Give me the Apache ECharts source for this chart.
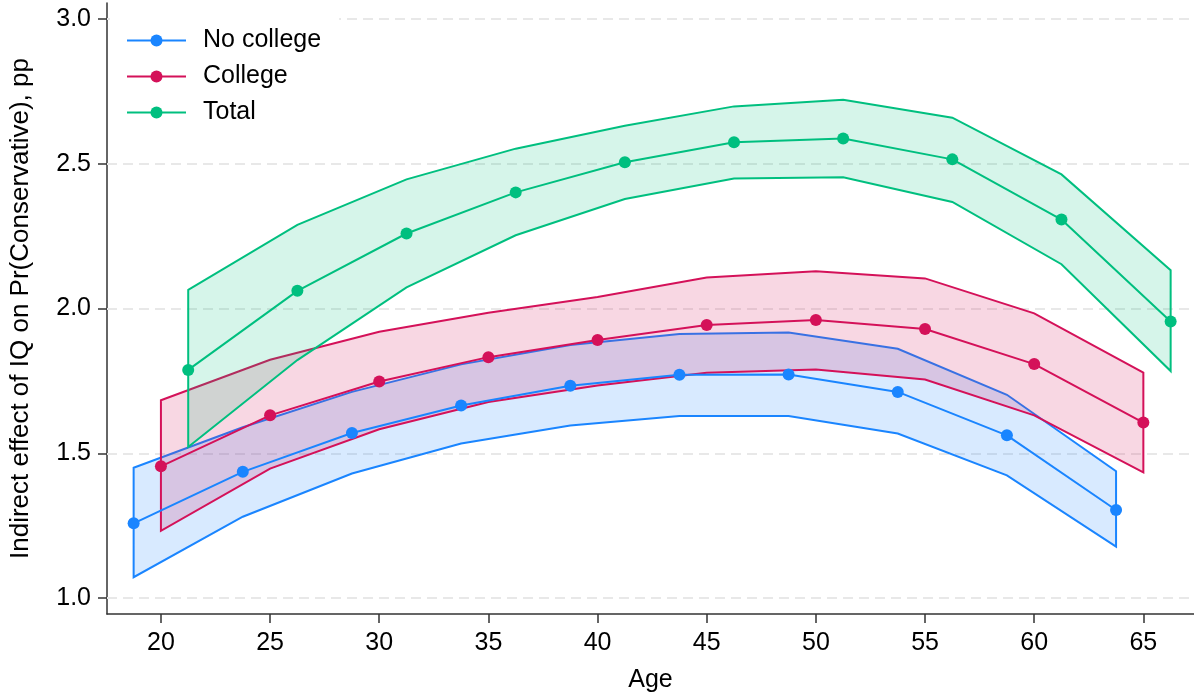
<!DOCTYPE html>
<html>
<head>
<meta charset="utf-8">
<script src="https://cdn.jsdelivr.net/npm/echarts@6/dist/echarts.min.js"></script>
<style>
html,body{margin:0;padding:0;background:#fff;}
#chart{width:1194px;height:698px;}
</style>
</head>
<body>
<div id="chart"></div>
<script>
// ---- data ----
const xTicks = [20, 25, 30, 35, 40, 45, 50, 55, 60, 65];
const yTicks = [1.0, 1.5, 2.0, 2.5, 3.0];

const noCollegeAge = [18.75, 23.75, 28.75, 33.75, 38.75, 43.75, 48.75, 53.75, 58.75, 63.75];
const noCollegeMid = [1.258, 1.436, 1.570, 1.665, 1.733, 1.771, 1.772, 1.712, 1.562, 1.304];
const noCollegeUp  = [1.450, 1.590, 1.712, 1.807, 1.874, 1.912, 1.917, 1.861, 1.702, 1.438];
const noCollegeLo  = [1.072, 1.281, 1.430, 1.534, 1.596, 1.629, 1.629, 1.568, 1.424, 1.178];

const collegeAge = [20, 25, 30, 35, 40, 45, 50, 55, 60, 65];
const collegeMid = [1.455, 1.631, 1.748, 1.832, 1.891, 1.943, 1.960, 1.929, 1.808, 1.606];
const collegeUp  = [1.683, 1.823, 1.920, 1.985, 2.040, 2.107, 2.129, 2.104, 1.983, 1.779];
const collegeLo  = [1.232, 1.447, 1.583, 1.677, 1.734, 1.778, 1.789, 1.755, 1.631, 1.434];

const totalAge = [21.25, 26.25, 31.25, 36.25, 41.25, 46.25, 51.25, 56.25, 61.25, 66.25];
const totalMid = [1.788, 2.061, 2.259, 2.401, 2.505, 2.574, 2.587, 2.515, 2.307, 1.955];
const totalUp  = [2.064, 2.289, 2.446, 2.552, 2.631, 2.698, 2.721, 2.659, 2.463, 2.132];
const totalLo  = [1.522, 1.822, 2.073, 2.253, 2.378, 2.449, 2.453, 2.368, 2.153, 1.784];

// ---- styles ----
const FONT = '"Liberation Sans", Arial, Helvetica, sans-serif';
const C_BLUE = '#1a85ff', C_RED = '#d41159', C_GREEN = '#00bf7f';
const F_BLUE = 'rgba(26,133,255,0.17)', F_RED = 'rgba(212,17,89,0.17)', F_GREEN = 'rgba(0,191,127,0.16)';

function bandSeries(name, age, lo, up, stroke, fill) {
  return {
    type: 'custom',
    name: name,
    z: 2,
    silent: true,
    data: age.map((a, i) => [a, lo[i], up[i]]),
    encode: { x: 0, y: [1, 2] },
    renderItem: function (params, api) {
      if (params.dataIndex !== 0) return null;
      const n = age.length;
      const pts = [];
      for (let i = 0; i < n; i++) pts.push(api.coord([age[i], up[i]]));
      for (let i = n - 1; i >= 0; i--) pts.push(api.coord([age[i], lo[i]]));
      return {
        type: 'polygon',
        shape: { points: pts },
        style: { fill: fill, stroke: stroke, lineWidth: 2, lineJoin: 'miter' }
      };
    }
  };
}

function lineSeries(name, age, mid, color) {
  return {
    type: 'line',
    name: name,
    z: 2,
    data: age.map((a, i) => [a, mid[i]]),
    symbol: 'circle',
    symbolSize: 12,
    showSymbol: true,
    lineStyle: { color: color, width: 2 },
    itemStyle: { color: color, borderWidth: 0 },
    emphasis: { disabled: true }
  };
}

const gridLineSeries = {
  type: 'line',
  name: 'grid',
  z: 1,
  data: [],
  silent: true,
  markLine: {
    z: 1,
    silent: true,
    animation: false,
    symbol: ['none', 'none'],
    label: { show: false },
    emphasis: { disabled: true },
    lineStyle: { color: '#e8e8e8', width: 2, type: [10, 6] },
    data: yTicks.map(v => ({ yAxis: v }))
  }
};

const chart = echarts.init(document.getElementById('chart'), null, { renderer: 'canvas' });
chart.setOption({
  animation: false,
  backgroundColor: '#fff',
  textStyle: { fontFamily: FONT },
  grid: { left: 106, right: 0, top: 3, bottom: 82, containLabel: false },
  legend: {
    data: ['No college', 'College', 'Total'],
    orient: 'vertical',
    left: 110,
    top: 16,
    z: 10,
    backgroundColor: '#fff',
    padding: [12, 18, 10, 16],
    itemWidth: 59,
    itemHeight: 15,
    itemGap: 11,
    selectedMode: false,
    textStyle: { fontFamily: FONT, fontSize: 25, color: '#000', padding: [0, 0, 0, 12] }
  },
  xAxis: {
    type: 'value',
    min: 17.53,
    max: 67.32,
    name: 'Age',
    nameLocation: 'middle',
    nameGap: 54,
    nameTextStyle: { fontFamily: FONT, fontSize: 25, color: '#000' },
    axisLine: { show: true, onZero: false, lineStyle: { color: '#333', width: 1.5 } },
    axisTick: { show: true, length: 9, lineStyle: { color: '#333', width: 1.5 }, customValues: xTicks },
    axisLabel: { fontFamily: FONT, fontSize: 25, color: '#000', margin: 17, customValues: xTicks },
    splitLine: { show: false }
  },
  yAxis: {
    type: 'value',
    min: 0.945,
    max: 3.055,
    name: 'Indirect effect of IQ on Pr(Conservative), pp',
    nameLocation: 'middle',
    nameRotate: 90,
    nameGap: 73,
    nameTextStyle: { fontFamily: FONT, fontSize: 26, color: '#000' },
    axisLine: { show: true, onZero: false, lineStyle: { color: '#333', width: 1.5 } },
    axisTick: { show: true, length: 9, lineStyle: { color: '#333', width: 1.5 }, customValues: yTicks },
    axisLabel: { fontFamily: FONT, fontSize: 25, color: '#000', margin: 16, customValues: yTicks,
                 formatter: v => Number(v).toFixed(1) },
    splitLine: { show: false }
  },
  series: [
    gridLineSeries,
    bandSeries('No college band', noCollegeAge, noCollegeLo, noCollegeUp, C_BLUE, F_BLUE),
    lineSeries('No college', noCollegeAge, noCollegeMid, C_BLUE),
    bandSeries('College band', collegeAge, collegeLo, collegeUp, C_RED, F_RED),
    lineSeries('College', collegeAge, collegeMid, C_RED),
    bandSeries('Total band', totalAge, totalLo, totalUp, C_GREEN, F_GREEN),
    lineSeries('Total', totalAge, totalMid, C_GREEN)
  ]
});
</script>
</body>
</html>
